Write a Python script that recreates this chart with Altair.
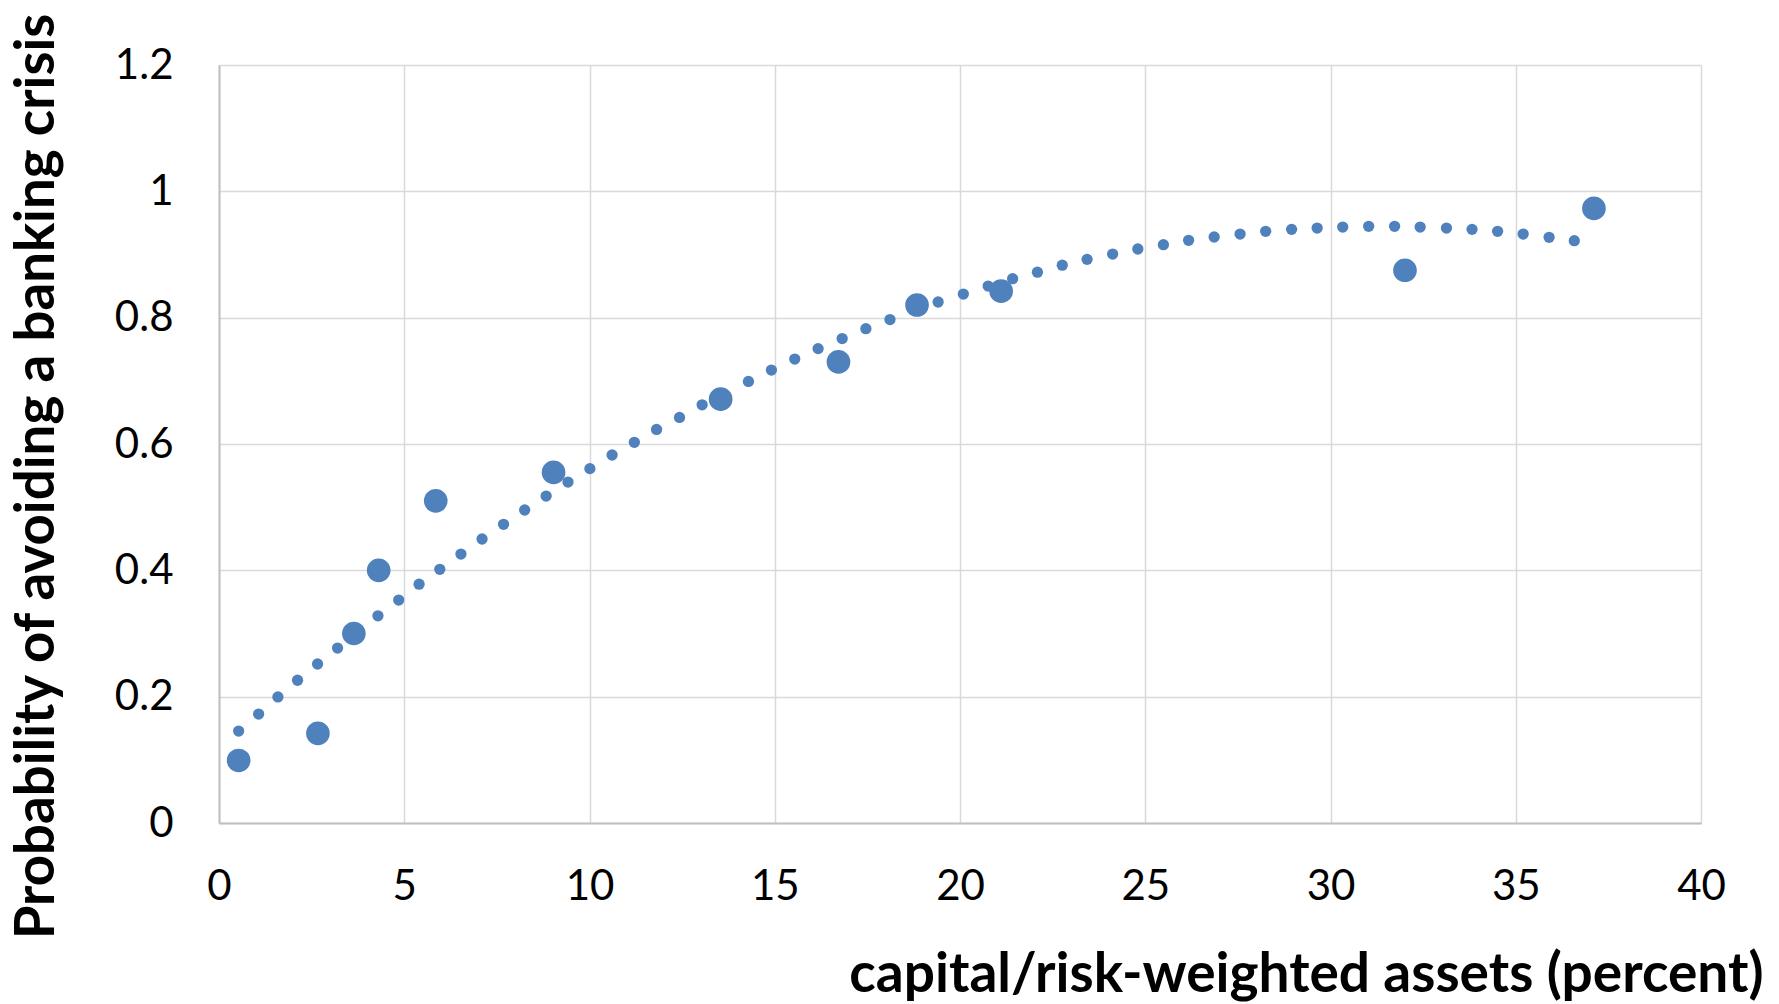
import altair as alt
import pandas as pd

# Observed data points (large markers)
cap_ratio = [0.53, 2.67, 3.64, 4.31, 5.85, 9.03, 13.54, 16.72, 18.84, 21.11, 32.01, 37.11]
prob_avoid = [0.099, 0.142, 0.300, 0.400, 0.510, 0.555, 0.671, 0.730, 0.820, 0.842, 0.875, 0.973]

# Dotted trend line (small markers)
trend_x = [0.53, 1.07, 1.59, 2.12, 2.66, 3.20, 4.29, 4.85, 5.40, 5.96, 6.53, 7.10,
           7.68, 8.25, 8.83, 9.42, 10.01, 10.61, 11.21, 11.81, 12.43, 13.04, 14.29,
           14.91, 15.54, 16.17, 16.82, 17.46, 18.11, 19.41, 20.09, 20.76, 21.42,
           22.09, 22.76, 23.43, 24.12, 24.80, 25.49, 26.17, 26.86, 27.56, 28.25,
           28.95, 29.64, 30.33, 31.03, 31.73, 32.42, 33.13, 33.82, 34.51, 35.20,
           35.90, 36.58]
trend_y = [0.1456, 0.1725, 0.1995, 0.226, 0.2517, 0.277, 0.328, 0.353, 0.378, 0.4016,
           0.4258, 0.4496, 0.4728, 0.4955, 0.5176, 0.5398, 0.561, 0.5826, 0.6026,
           0.623, 0.642, 0.662, 0.699, 0.717, 0.7345, 0.751, 0.767, 0.7825, 0.797,
           0.8248, 0.8374, 0.850, 0.8617, 0.872, 0.883, 0.8923, 0.9007, 0.9087,
           0.9155, 0.9224, 0.9277, 0.9324, 0.9367, 0.9398, 0.9419, 0.9435, 0.9446,
           0.9446, 0.9435, 0.9419, 0.9398, 0.9367, 0.9324, 0.9272, 0.9218]

x_ticks = [0, 5, 10, 15, 20, 25, 30, 35, 40]
y_ticks = [0, 0.2, 0.4, 0.6, 0.8, 1, 1.2]

x_title = "capital/risk-weighted assets (percent)"
y_title = "Probability of avoiding a banking crisis"

BLUE = "#4F81BD"
FONT = "Lato"

obs = pd.DataFrame({"x": cap_ratio, "y": prob_avoid})
trend = pd.DataFrame({"x": trend_x, "y": trend_y})

x_axis = alt.Axis(
    values=x_ticks, format="d", grid=True, gridColor="#d9d9d9", gridWidth=1.5,
    domainColor="#bfbfbf", domainWidth=2, ticks=False, labelFlush=False,
    labelFont=FONT, labelFontSize=42, labelColor="#000000", labelPadding=43,
    title=x_title, titleFont=FONT, titleFontSize=55, titleFontWeight="bold",
    titleColor="#000000", titleAlign="right", titleAnchor="end",
    titleBaseline="alphabetic", titleX=1544, titleY=168,
)
y_axis = alt.Axis(
    values=y_ticks, format=".1~f", grid=True, gridColor="#d9d9d9", gridWidth=1.5,
    domainColor="#bfbfbf", domainWidth=2, ticks=False, labelFlush=False,
    labelFont=FONT, labelFontSize=42, labelColor="#000000", labelPadding=46,
    title=y_title, titleFont=FONT, titleFontSize=54.6, titleFontWeight="bold",
    titleColor="#000000", titleAlign="center", titleAngle=270,
    titleBaseline="alphabetic", titleX=-166, titleY=411,
)

xs = alt.Scale(domain=[0, 40], nice=False, zero=False)
ys = alt.Scale(domain=[0, 1.2], nice=False, zero=False)

big = alt.Chart(obs).mark_circle(color=BLUE, opacity=1, size=560).encode(
    x=alt.X("x:Q", scale=xs, axis=x_axis),
    y=alt.Y("y:Q", scale=ys, axis=y_axis),
)
small = alt.Chart(trend).mark_circle(color=BLUE, opacity=1, size=127).encode(
    x=alt.X("x:Q", scale=xs),
    y=alt.Y("y:Q", scale=ys),
)

chart = (
    alt.layer(big, small)
    .properties(
        width=1482, height=758,
        autosize=alt.AutoSizeParams(type="none"),
        padding={"left": 211, "top": 57, "right": 70, "bottom": 185},
        background="white",
    )
    .configure_view(stroke=None)
)

chart.save("out.html", embed_options={"renderer": "svg", "actions": False})
